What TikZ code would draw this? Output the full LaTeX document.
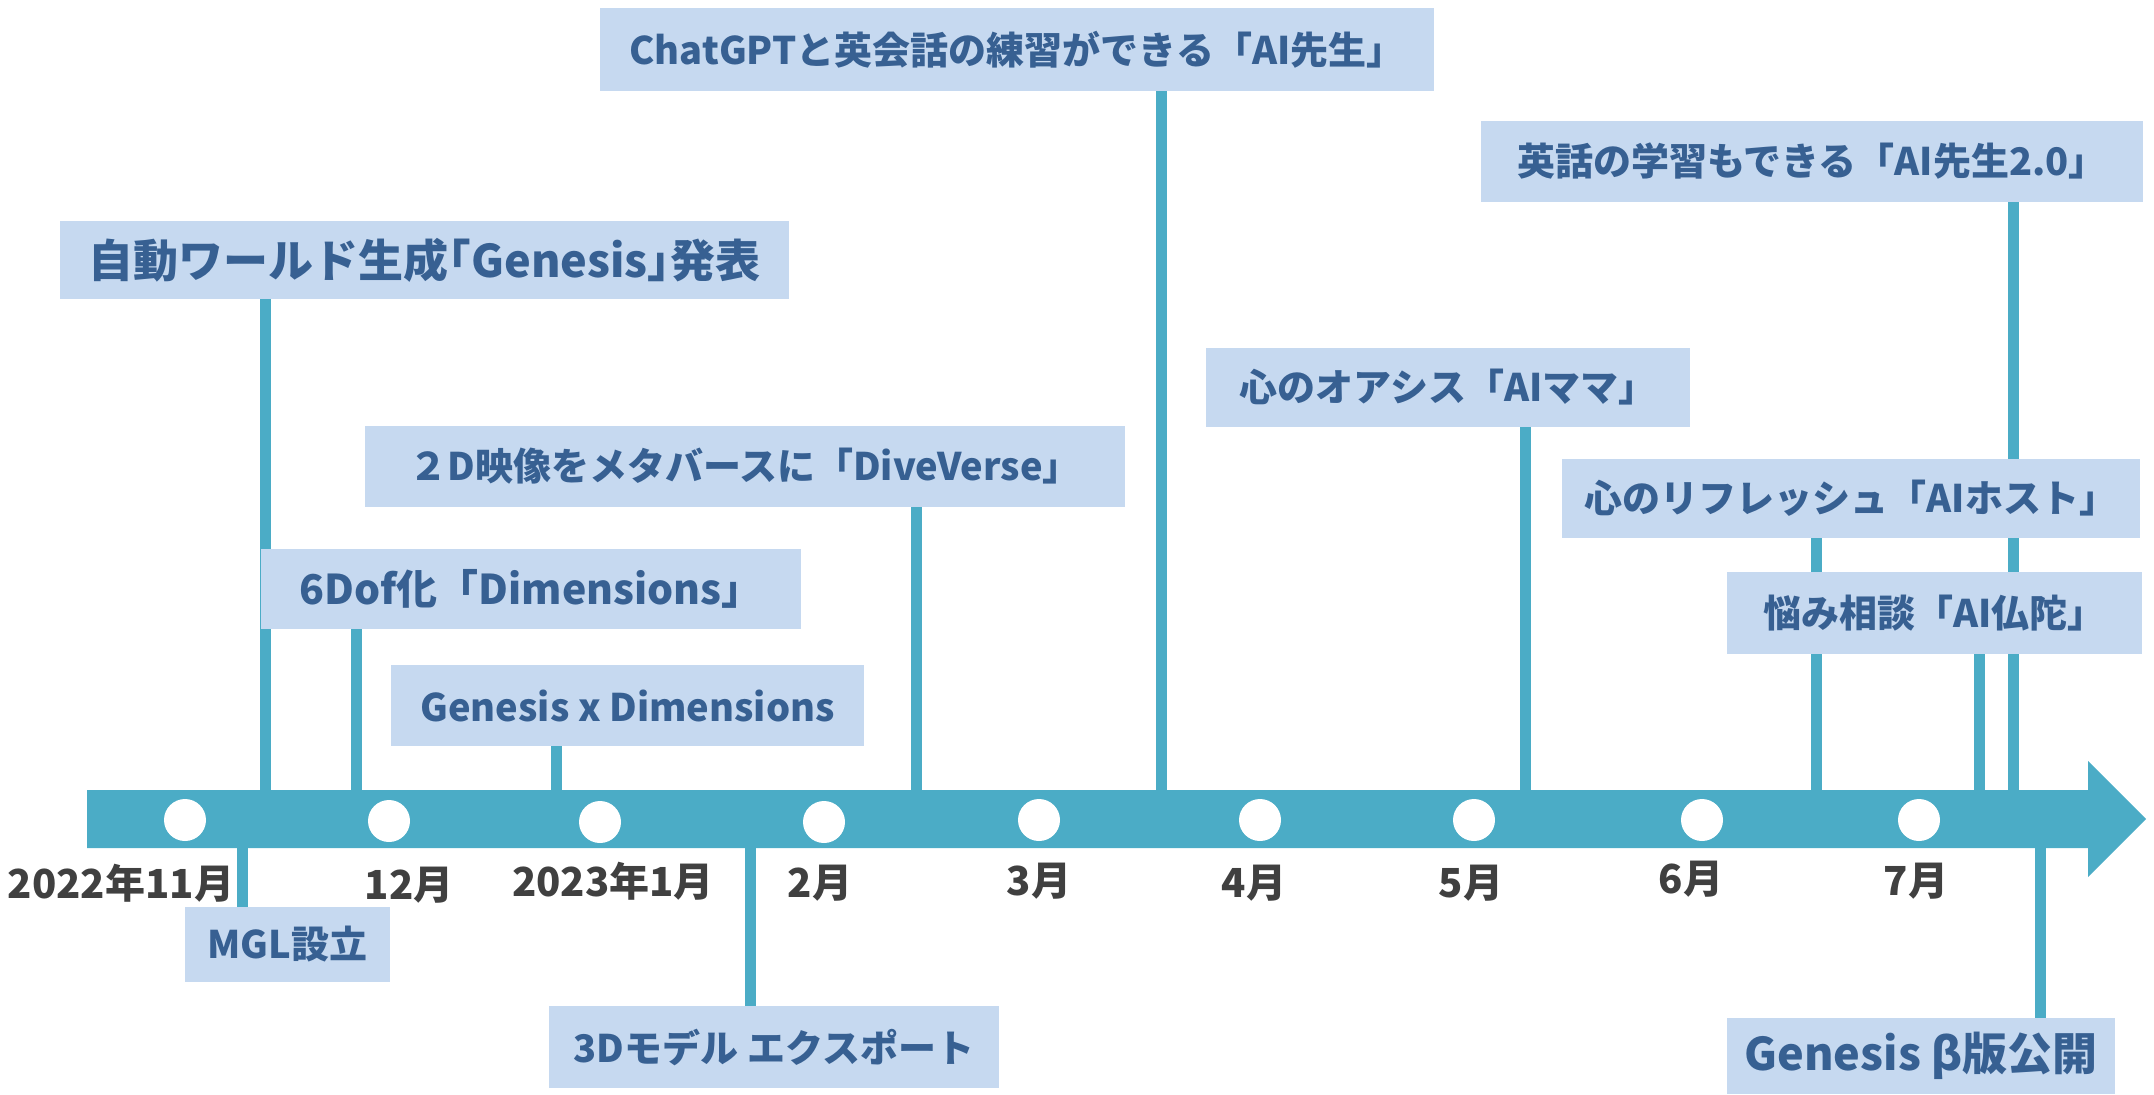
\documentclass[tikz,border=0pt]{standalone}
\usepackage{fontspec}
\setmainfont{Noto Sans CJK JP}
\usepackage{tikz}
\usetikzlibrary{backgrounds}
\usepackage{xcolor}
\definecolor{barblue}{HTML}{4BACC6}
\definecolor{boxblue}{HTML}{C6D9F0}
\definecolor{textblue}{HTML}{376092}
\definecolor{monthgray}{HTML}{404040}
\tikzset{
  evbox/.style={fill=boxblue, text=textblue, inner sep=0pt, font=\bfseries\fontsize{19}{22}\selectfont},
  bigbox/.style={evbox, font=\bfseries\fontsize{22.5}{26}\selectfont},
  conn/.style={draw=barblue, line width=5.5pt},
  dot/.style={circle, fill=white, minimum size=21pt, inner sep=0pt},
  month/.style={text=monthgray, inner sep=0pt, font=\bfseries\fontsize{20}{23}\selectfont},
}

\begin{document}
\begin{tikzpicture}[x=0.5pt,y=0.5pt,yscale=-1]
\useasboundingbox (0,0) rectangle (2154,1094);

%Shape: Timeline arrow
\fill[barblue] (87,790) -- (2088,790) -- (2088,761) -- (2146,819) -- (2088,877) -- (2088,848) -- (87,848) -- cycle;

% month dots
\node[dot] (m11) at (185,820) {};
\node[dot] (m12) at (389,821) {};
\node[dot] (m01) at (600,822) {};
\node[dot] (m02) at (824,822) {};
\node[dot] (m03) at (1039,820) {};
\node[dot] (m04) at (1260,820) {};
\node[dot] (m05) at (1474,820) {};
\node[dot] (m06) at (1702,820) {};
\node[dot] (m07) at (1919,820) {};

% Text Node: months
\node[month] (l11) at (121,883) {2022年11月};
\node[month] (l12) at (409,885) {12月};
\node[month] (l01) at (613,881) {2023年1月};
\node[month] (l02) at (820,883) {2月};
\node[month] (l03) at (1039,881) {3月};
\node[month] (l04) at (1254,883) {4月};
\node[month] (l05) at (1471,883) {5月};
\node[month] (l06) at (1691,879) {6月};
\node[month] (l07) at (1916,881) {7月};

% Text Node: events above
\node[evbox, minimum width=417pt, minimum height=41.5pt] (aisensei) at (1017,49.5) {ChatGPTと英会話の練習ができる「AI先生」};
\node[bigbox, minimum width=364.5pt, minimum height=39pt] (genesis) at (424.5,260) {自動ワールド生成｢Genesis｣発表};
\node[evbox, minimum width=331pt, minimum height=40.5pt] (aisensei2) at (1812,161.5) {英話の学習もできる「AI先生2.0」};
\node[evbox, minimum width=242pt, minimum height=39.5pt] (aimama) at (1448,387.5) {心のオアシス「AIママ」};
\node[evbox, minimum width=380pt, minimum height=40.5pt] (diveverse) at (745,466.5) {２D映像をメタバースに「DiveVerse」};
\node[evbox, minimum width=270pt, minimum height=40pt, font=\bfseries\fontsize{20.5}{24}\selectfont] (dimensions) at (531,589) {6Dof化「Dimensions」};
\node[evbox, minimum width=236.5pt, minimum height=40.5pt] (gxd) at (627.5,705.5) {Genesis x Dimensions};
\node[evbox, minimum width=289pt, minimum height=39.5pt] (aihost) at (1851,498.5) {心のリフレッシュ「AIホスト」};
\node[evbox, minimum width=207.5pt, minimum height=41pt] (aibuddha) at (1934.5,613) {悩み相談「AI仏陀」};

% Text Node: events below
\node[evbox, minimum width=102.5pt, minimum height=37.5pt] (mgl) at (287.5,944.5) {MGL設立};
\node[evbox, minimum width=225pt, minimum height=41pt] (export) at (774,1047) {3Dモデル エクスポート};
\node[bigbox, minimum width=194pt, minimum height=38pt] (beta) at (1921,1056) {Genesis β版公開};

% bar ends of the connectors
\coordinate (t-genesis) at (265,790);
\coordinate (t-dim) at (356,790);
\coordinate (t-gxd) at (556,790);
\coordinate (t-dive) at (916,790);
\coordinate (t-ai) at (1161,790);
\coordinate (t-mama) at (1525,790);
\coordinate (t-host) at (1816,790);
\coordinate (t-buddha) at (1979,790);
\coordinate (t-ai2) at (2013,790);
\coordinate (b-mgl) at (242,848);
\coordinate (b-export) at (750,848);
\coordinate (b-beta) at (2040,848);

%Straight Lines
\begin{scope}[on background layer]
\draw[conn] (t-genesis |- genesis.south) -- (t-genesis);
\draw[conn] (t-dim |- dimensions.south) -- (t-dim);
\draw[conn] (t-gxd |- gxd.south) -- (t-gxd);
\draw[conn] (t-dive |- diveverse.south) -- (t-dive);
\draw[conn] (t-ai |- aisensei.south) -- (t-ai);
\draw[conn] (t-mama |- aimama.south) -- (t-mama);
\draw[conn] (t-host |- aihost.south) -- (t-host);
\draw[conn] (t-buddha |- aibuddha.south) -- (t-buddha);
\draw[conn] (t-ai2 |- aisensei2.south) -- (t-ai2);
\draw[conn] (b-mgl) -- (b-mgl |- mgl.north);
\draw[conn] (b-export) -- (b-export |- export.north);
\draw[conn] (b-beta) -- (b-beta |- beta.north);
\end{scope}
\end{tikzpicture}
\end{document}
